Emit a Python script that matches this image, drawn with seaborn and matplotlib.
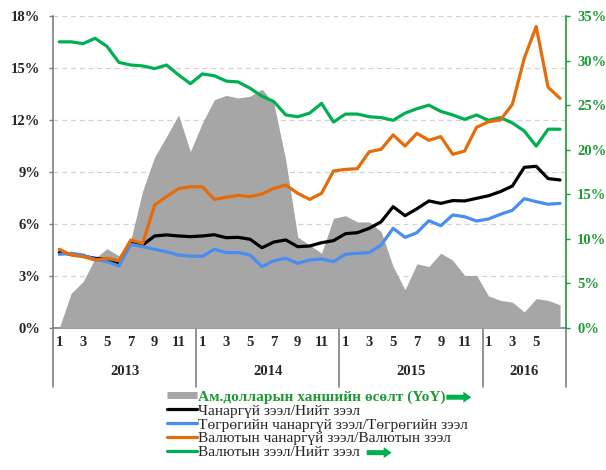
import numpy as np
import pandas as pd
import matplotlib
matplotlib.use("Agg")
import matplotlib.pyplot as plt
import matplotlib.transforms as mtransforms
from matplotlib.lines import Line2D
from matplotlib.patches import FancyArrow
import seaborn as sns

# ---------------- data ----------------
years = ["2013", "2014", "2015", "2016"]
months_per_year = [12, 12, 12, 7]
month_numbers = [m for n in months_per_year for m in range(1, n + 1)]

# USD exchange-rate growth, YoY (right axis, %)
usd_yoy = [0.0, 3.9, 5.2, 7.8, 8.9, 8.1, 9.9, 15.4, 19.2, 21.5, 23.9, 19.8,
           23.0, 25.6, 26.1, 25.8, 26.0, 26.8, 25.2, 18.8, 10.2, 9.3, 8.4, 12.3,
           12.6, 11.9, 11.9, 10.8, 6.9, 4.3, 7.2, 6.9, 8.4, 7.6, 5.9, 5.9,
           3.6, 3.1, 2.9, 1.8, 3.3, 3.1, 2.6]
# NPL / total loans (left axis, %)
npl_total = [4.35, 4.25, 4.15, 4.02, 3.96, 3.69, 4.88, 4.79, 5.31, 5.37, 5.31, 5.27,
             5.31, 5.38, 5.21, 5.23, 5.12, 4.63, 4.96, 5.08, 4.69, 4.73, 4.92, 5.04,
             5.44, 5.50, 5.75, 6.13, 7.00, 6.48, 6.88, 7.33, 7.19, 7.35, 7.33, 7.48,
             7.63, 7.87, 8.19, 9.27, 9.33, 8.62, 8.54]
# MNT NPL / MNT loans (left axis, %)
npl_mnt = [4.25, 4.31, 4.21, 3.96, 3.83, 3.58, 4.83, 4.69, 4.54, 4.40, 4.21, 4.15,
           4.13, 4.54, 4.35, 4.35, 4.21, 3.54, 3.88, 4.02, 3.73, 3.92, 3.98, 3.83,
           4.25, 4.31, 4.35, 4.79, 5.75, 5.23, 5.50, 6.19, 5.90, 6.52, 6.42, 6.17,
           6.29, 6.56, 6.79, 7.46, 7.29, 7.14, 7.19]
# FX NPL / FX loans (left axis, %)
npl_fx = [4.54, 4.21, 4.12, 3.92, 4.02, 3.88, 5.08, 4.88, 7.10, 7.58, 8.04, 8.15,
          8.15, 7.42, 7.54, 7.65, 7.58, 7.73, 8.06, 8.25, 7.77, 7.42, 7.77, 9.06,
          9.15, 9.19, 10.17, 10.31, 11.14, 10.50, 11.23, 10.83, 11.04, 10.02, 10.21, 11.58,
          11.90, 12.00, 12.90, 15.56, 17.39, 13.89, 13.25]
# FX loans / total loans (right axis, %)
fx_share = [32.1, 32.1, 31.9, 32.5, 31.6, 29.8, 29.5, 29.4, 29.1, 29.5, 28.4, 27.4,
            28.5, 28.3, 27.7, 27.6, 26.9, 26.0, 25.4, 23.9, 23.7, 24.1, 25.2, 23.1,
            24.0, 24.0, 23.7, 23.6, 23.3, 24.1, 24.6, 25.0, 24.3, 23.9, 23.4, 23.9,
            23.3, 23.6, 23.0, 22.1, 20.4, 22.3, 22.3]

labels = ["Ам.долларын ханшийн өсөлт (YoY)",
          "Чанаргүй зээл/Нийт зээл",
          "Төгрөгийн чанаргүй зээл/Төгрөгийн зээл",
          "Валютын чанаргүй зээл/Валютын зээл",
          "Валютын зээл/Нийт зээл"]

left_ticks = [0, 3, 6, 9, 12, 15, 18]
right_ticks = [0, 5, 10, 15, 20, 25, 30, 35]

df = pd.DataFrame({"idx": np.arange(len(month_numbers)), "month": month_numbers,
                   "usd_yoy": usd_yoy, "npl_total": npl_total, "npl_mnt": npl_mnt,
                   "npl_fx": npl_fx, "fx_share": fx_share})

# ---------------- style ----------------
sns.set_style("white")
plt.rcParams["font.family"] = ["Liberation Serif", "DejaVu Serif"]

C_GRAY = "#A6A6A6"
C_BLACK = "#000000"
C_BLUE = "#4A8DF2"
C_ORANGE = "#E46C0A"
C_GREEN = "#00B050"
C_GREEN_TXT = "#1E9A35"
C_AXIS = "#7F7F7F"
LW = 2.3

W, H = 606, 470
fig = plt.figure(figsize=(W / 100, H / 100), dpi=100)
L, R, B, T = 53.3 / W, 566 / W, 1 - 328 / H, 1 - 16 / H
ax = fig.add_axes([L, B, R - L, T - B])
ax2 = ax.twinx()
ax3 = fig.add_axes(ax.get_position(), sharex=ax, sharey=ax, frameon=False)
ax3.patch.set_visible(False)

# right axis: area + green line
ax2.fill_between(df["idx"], 0, df["usd_yoy"], color=C_GRAY, lw=0, zorder=1)
sns.lineplot(data=df, x="idx", y="fx_share", ax=ax2, color=C_GREEN, lw=LW, zorder=3)

# left axis lines (top layer)
sns.lineplot(data=df, x="idx", y="npl_total", ax=ax3, color=C_BLACK, lw=LW)
sns.lineplot(data=df, x="idx", y="npl_mnt", ax=ax3, color=C_BLUE, lw=LW)
sns.lineplot(data=df, x="idx", y="npl_fx", ax=ax3, color=C_ORANGE, lw=LW)

for a in (ax, ax2, ax3):
    a.set_xlabel("")
    a.set_ylabel("")

ax.set_xlim(-0.5, len(month_numbers) - 0.5)
ax.set_ylim(0, 18)
ax.set_yticks(left_ticks)
ax.set_yticklabels([f"{v}%" for v in left_ticks], fontsize=10.5, fontweight="bold")
ax.yaxis.grid(True, ls=(0, (4, 3)), color="#D3D3D3", lw=0.9)
ax.xaxis.grid(False)
ax.set_axisbelow(True)
ax.tick_params(axis="y", direction="out", length=3, width=1, color=C_AXIS, pad=6.5)

xt = [i for i, m in enumerate(month_numbers) if m % 2 == 1 and i < len(month_numbers) - 1]
ax.set_xticks(xt)
ax.set_xticklabels([str(month_numbers[i]) for i in xt], fontsize=10.5, fontweight="bold")
ax.tick_params(axis="x", length=0, pad=6)

ax2.set_ylim(0, 35)
ax2.set_yticks(right_ticks)
ax2.set_yticklabels([f"{v}%" for v in right_ticks], fontsize=10.5, fontweight="bold",
                    color=C_GREEN_TXT)
ax2.tick_params(axis="y", direction="out", length=3, width=1, color=C_GREEN_TXT, pad=5)

ax3.tick_params(left=False, labelleft=False, bottom=False, labelbottom=False,
                right=False, labelright=False)

for s in ("top", "right"):
    ax.spines[s].set_visible(False)
for s in ("left", "bottom"):
    ax.spines[s].set_color(C_AXIS)
    ax.spines[s].set_linewidth(1.2)
for s in ("top", "left", "bottom"):
    ax2.spines[s].set_visible(False)
ax2.spines["right"].set_color(C_GREEN_TXT)
ax2.spines["right"].set_linewidth(1.2)

# year separators and labels
trans = mtransforms.blended_transform_factory(ax.transData, ax.transAxes)
bounds = np.concatenate([[0], np.cumsum(months_per_year)]) - 0.5
for b in bounds:
    ax.plot([b, b], [0, -0.19], transform=trans, color=C_AXIS, lw=1.2, clip_on=False)
for y, b0, b1 in zip(years, bounds[:-1], bounds[1:]):
    ax.text((b0 + b1) / 2, -0.138, y, transform=trans, ha="center", va="center",
            fontsize=10.5, fontweight="bold")

# legend
handles = [Line2D([], [], color=C_GRAY, lw=5, solid_capstyle="butt"),
           Line2D([], [], color=C_BLACK, lw=LW),
           Line2D([], [], color=C_BLUE, lw=LW),
           Line2D([], [], color=C_ORANGE, lw=LW),
           Line2D([], [], color=C_GREEN, lw=LW)]
leg = fig.legend(handles, labels, loc="upper left", bbox_to_anchor=(167 / W, 1 - 390 / H),
                 frameon=False, fontsize=11.1, handlelength=1.95, handletextpad=0.05,
                 labelspacing=0.0, borderaxespad=0, borderpad=0)
leg.get_texts()[0].set_color(C_GREEN_TXT)
leg.get_texts()[0].set_fontweight("bold")

fig.canvas.draw()
renderer = fig.canvas.get_renderer()
for k, gap in ((0, 1), (4, 7)):
    bb = leg.get_texts()[k].get_window_extent(renderer)
    x0 = (bb.x1 + gap) / W
    yc = (bb.y0 + bb.y1) / 2 / H
    arr = FancyArrow(x0, yc, 25 / W, 0, width=5 / H, head_width=11 / H,
                     head_length=8 / W, length_includes_head=True,
                     transform=fig.transFigure, color="#00B050", lw=0)
    fig.patches.append(arr)

fig.savefig("out.png", dpi=100)
